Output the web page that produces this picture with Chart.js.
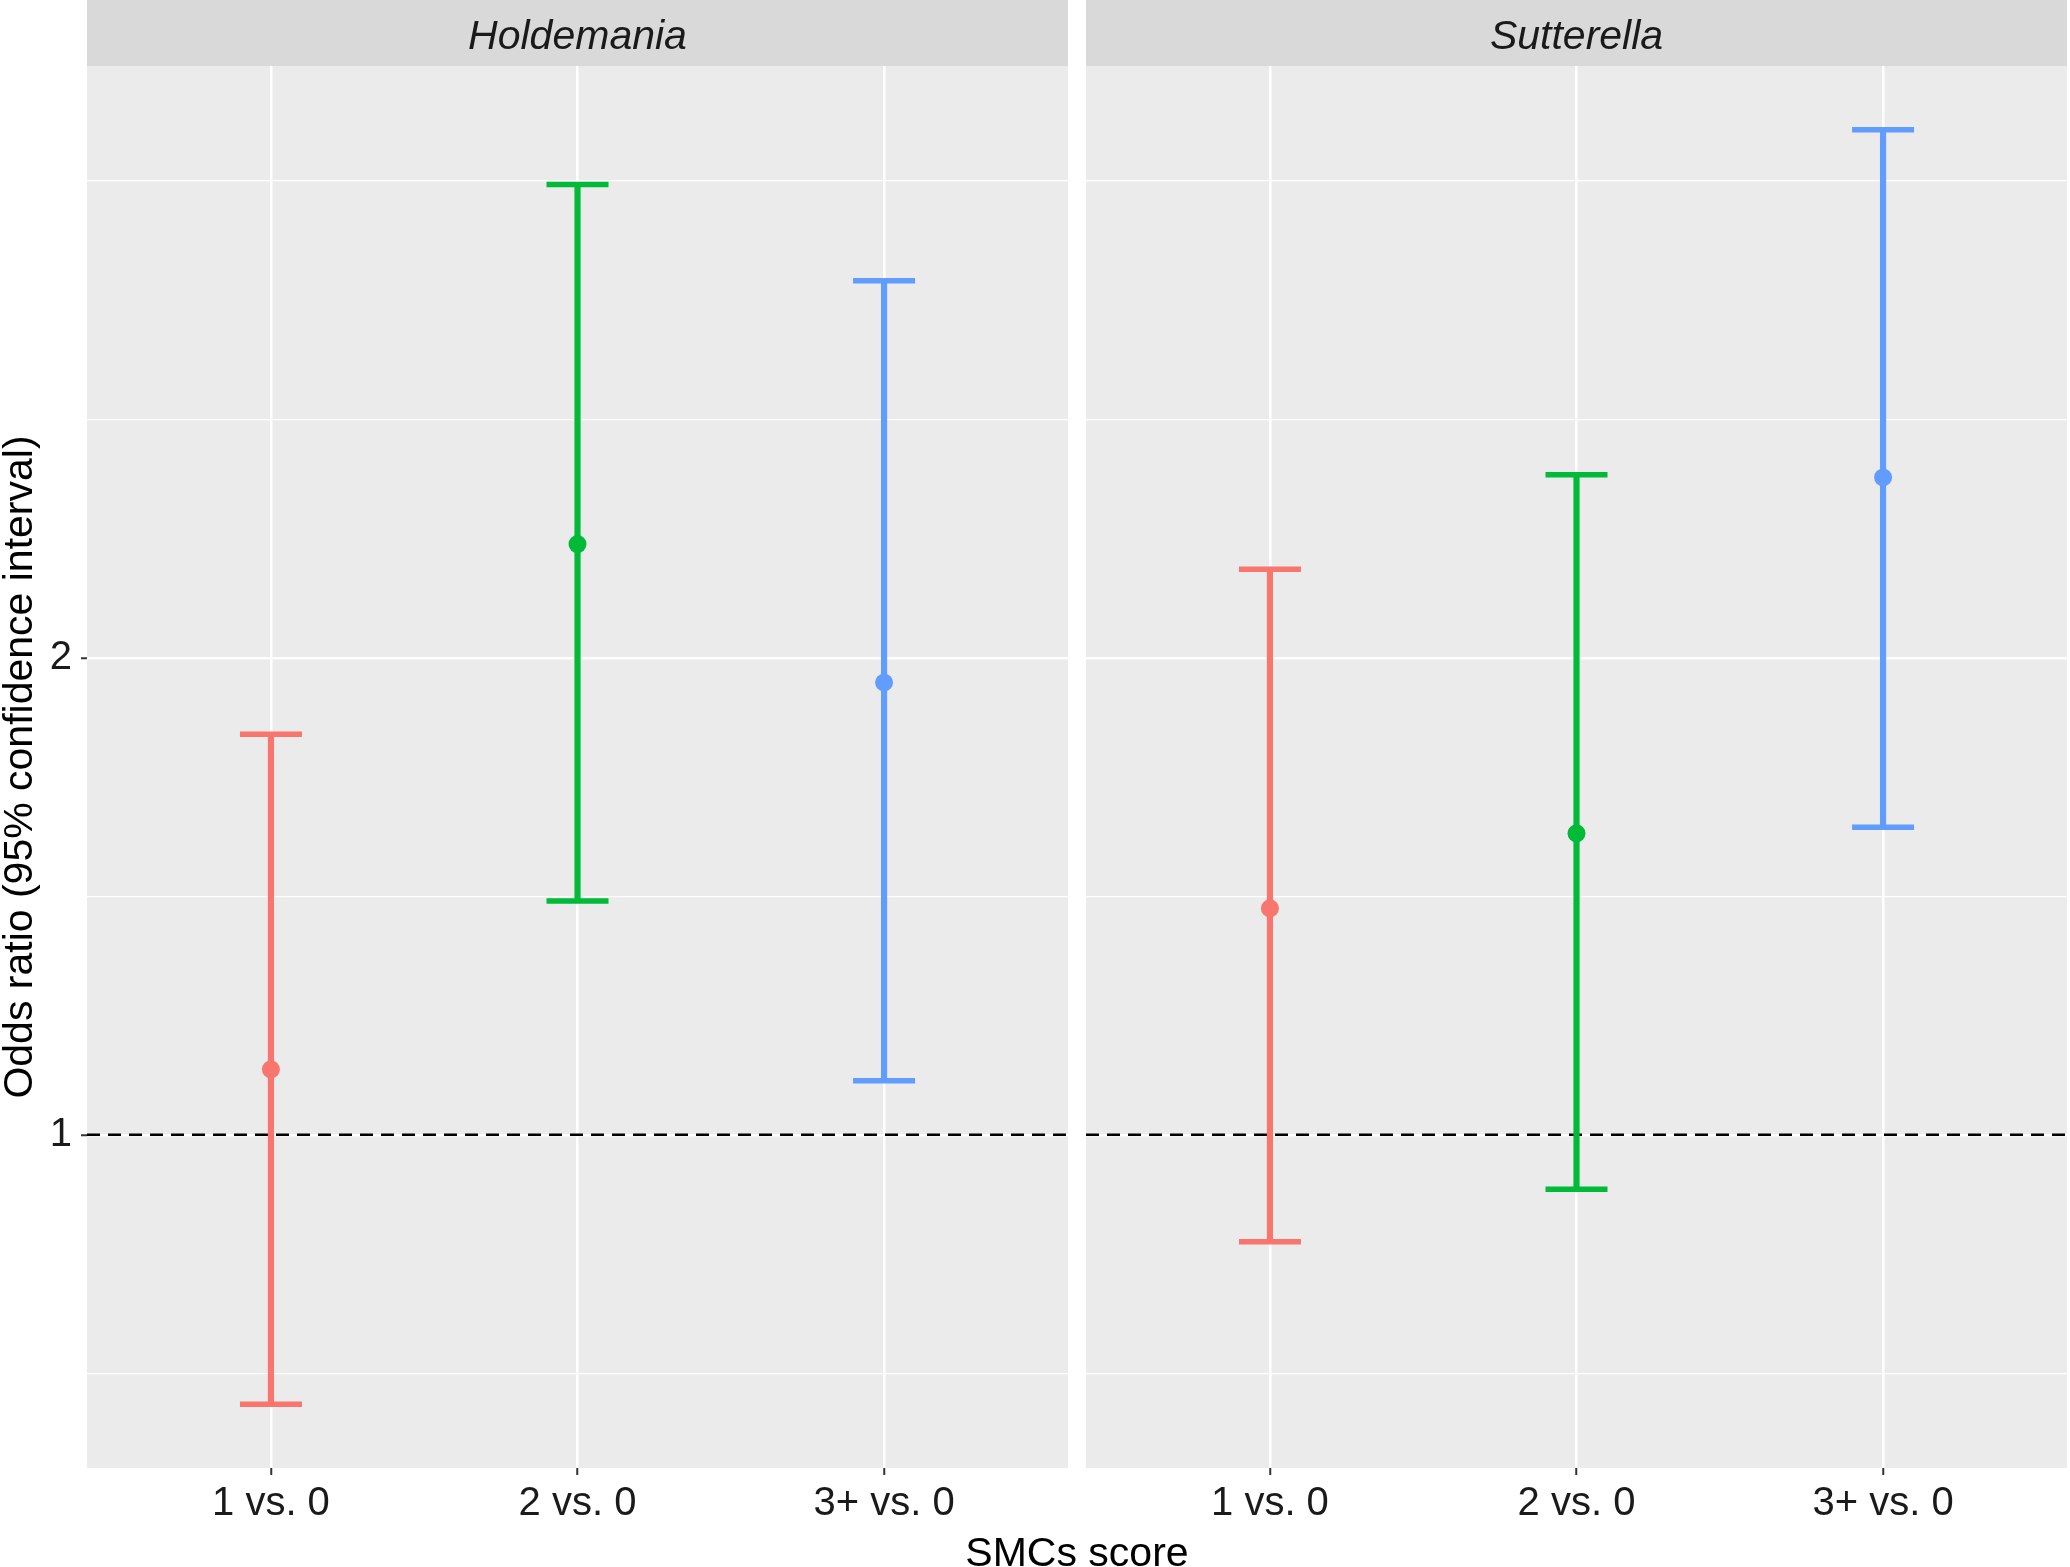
<!DOCTYPE html>
<html>
<head>
<meta charset="utf-8">
<script src="https://cdn.jsdelivr.net/npm/chart.js@4.4.0/dist/chart.umd.min.js"></script>
<style>
  body { margin: 0; background: #fff; }
  #wrap { position: relative; width: 2070px; height: 1567px; font-family: "Liberation Sans", Arial, sans-serif; }
  #left { position: absolute; left: 0; top: 0; }
  #right { position: absolute; left: 1068px; top: 0; }
  #xtitle { position: absolute; left: 87px; width: 1980px; top: 1532px; text-align: center; font-size: 41px; line-height: 41px; color: #000; }
</style>
</head>
<body>
<div id="wrap">
  <canvas id="left" width="1068" height="1567"></canvas>
  <canvas id="right" width="1002" height="1567"></canvas>
  <div id="xtitle">SMCs score</div>
</div>
<script>
const categories = ['1 vs. 0', '2 vs. 0', '3+ vs. 0'];

const holdemaniaOR = [1.10, 2.36, 1.93];
const holdemaniaLow = [0.676, 1.405, 1.082];
const holdemaniaHigh = [1.79, 3.98, 3.46];

const sutterellaOR = [1.39, 1.55, 2.60];
const sutterellaLow = [0.856, 0.924, 1.564];
const sutterellaHigh = [2.275, 2.61, 4.31];

const yMajorBreaks = [1, 2];
const yMinorBreaks = [0.707, 1.414, 2.828, 4];
const refLine = 1;

const colors = ['#F8766D', '#00BA38', '#619CFF'];

Chart.defaults.font.family = '"Liberation Sans", Arial, sans-serif';
Chart.defaults.color = '#1A1A1A';

// shared y range, ggplot style 5% expansion on log scale
const lo2 = Math.log2(Math.min(...holdemaniaLow, ...sutterellaLow));
const hi2 = Math.log2(Math.max(...holdemaniaHigh, ...sutterellaHigh));
const pad = (hi2 - lo2) * 0.05;
const yMin = Math.pow(2, lo2 - pad);
const yMax = Math.pow(2, hi2 + pad);

const panelPlugin = {
  id: 'panel',
  beforeDraw(chart, args, opts) {
    const { ctx, chartArea: a } = chart;
    ctx.save();
    ctx.fillStyle = '#EBEBEB';
    ctx.fillRect(a.left, a.top, a.width, a.height);
    ctx.fillStyle = '#D9D9D9';
    ctx.fillRect(a.left, 0, a.width, a.top);
    ctx.fillStyle = '#1A1A1A';
    ctx.font = 'italic 41px "Liberation Sans", Arial, sans-serif';
    ctx.textAlign = 'center';
    ctx.textBaseline = 'alphabetic';
    ctx.fillText(opts.label, (a.left + a.right) / 2, 49);
    ctx.restore();
  },
  beforeDatasetsDraw(chart) {
    const { ctx, chartArea: a, scales } = chart;
    const y = scales.y.getPixelForValue(refLine);
    ctx.save();
    ctx.strokeStyle = '#000';
    ctx.lineWidth = 2.5;
    ctx.setLineDash([13, 8]);
    ctx.beginPath();
    ctx.moveTo(a.left, y);
    ctx.lineTo(a.right, y);
    ctx.stroke();
    ctx.restore();
  }
};

function makeChart(id, label, est, low, high, left) {
  const xy = arr => arr.map((v, i) => ({ x: i + 1, y: v }));
  return new Chart(document.getElementById(id), {
    type: 'bar',
    plugins: [panelPlugin],
    data: {
      datasets: [
        { type: 'line', data: xy(est), showLine: false, pointRadius: 9, pointBackgroundColor: colors, pointBorderWidth: 0 },
        { type: 'line', data: xy(low), showLine: false, pointStyle: 'line', pointRadius: 31, pointBorderColor: colors, pointBorderWidth: 5.5 },
        { type: 'line', data: xy(high), showLine: false, pointStyle: 'line', pointRadius: 31, pointBorderColor: colors, pointBorderWidth: 5.5 },
        { type: 'bar', data: categories.map((c, i) => ({ x: i + 1, y: [low[i], high[i]] })), backgroundColor: colors, barThickness: 5.5, borderWidth: 0 }
      ]
    },
    options: {
      responsive: false,
      animation: false,
      events: [],
      layout: { autoPadding: false, padding: { top: 66, left: 0, right: left ? 0 : 3, bottom: 0 } },
      plugins: {
        legend: { display: false },
        tooltip: { enabled: false },
        panel: { label: label }
      },
      scales: {
        x: {
          type: 'linear',
          min: 0.4,
          max: 3.6,
          offset: false,
          afterBuildTicks: s => { s.ticks = categories.map((c, i) => ({ value: i + 1 })); },
          afterFit: s => {
            s.height = 99;
            s.paddingLeft = 0;
            s.paddingRight = 0;
          },
          ticks: {
            callback: v => categories[v - 1],
            font: { size: 40 },
            color: '#1A1A1A',
            padding: 5,
            maxRotation: 0,
            autoSkip: false
          },
          grid: { color: '#FFFFFF', lineWidth: 2.5, tickColor: '#333333', tickLength: 7, tickWidth: 2, offset: false },
          border: { display: false }
        },
        y: {
          type: 'logarithmic',
          bounds: 'data',
          min: yMin,
          max: yMax,
          afterBuildTicks: s => {
            s.ticks = yMinorBreaks.concat(yMajorBreaks).sort((a, b) => a - b).map(v => ({ value: v }));
          },
          afterFit: s => {
            s.width = left ? 87 : 18;
            s.paddingTop = 0;
            s.paddingBottom = 0;
          },
          ticks: {
            display: left,
            callback: v => yMajorBreaks.includes(v) ? String(v) : '',
            font: { size: 40 },
            color: '#1A1A1A',
            padding: 9
          },
          grid: {
            color: '#FFFFFF',
            lineWidth: c => yMajorBreaks.includes(c.tick.value) ? 2.5 : 1.2,
            tickColor: c => (left && yMajorBreaks.includes(c.tick.value)) ? '#333333' : 'rgba(0,0,0,0)',
            tickLength: left ? 6 : 0,
            tickWidth: 2
          },
          border: { display: false },
          title: {
            display: left,
            text: 'Odds ratio (95% confidence interval)',
            font: { size: 41, lineHeight: 1 },
            padding: 0,
            color: '#000'
          }
        }
      }
    }
  });
}

makeChart('left', 'Holdemania', holdemaniaOR, holdemaniaLow, holdemaniaHigh, true);
makeChart('right', 'Sutterella', sutterellaOR, sutterellaLow, sutterellaHigh, false);
</script>
</body>
</html>
